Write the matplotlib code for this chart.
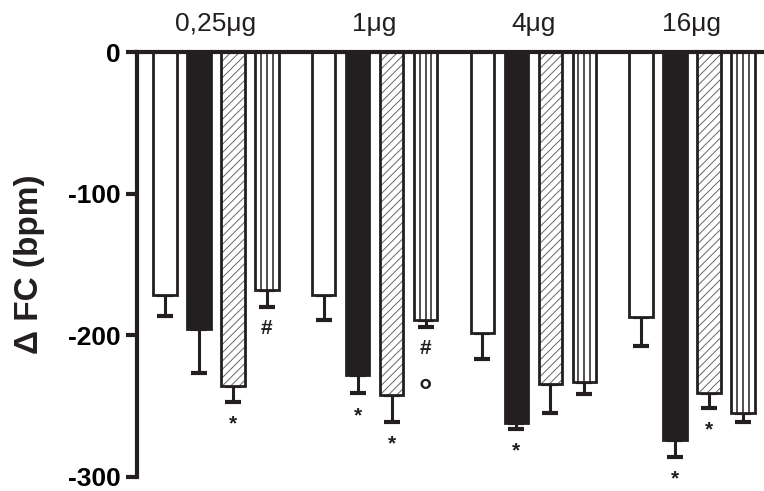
import matplotlib
matplotlib.use("Agg")
import matplotlib.pyplot as plt
import numpy as np

plt.rcParams['font.family'] = ['Liberation Sans', 'DejaVu Sans']
plt.rcParams['hatch.linewidth'] = 0.7
plt.rcParams['axes.unicode_minus'] = False

# data (bpm)
doses = ["0,25μg", "1μg", "4μg", "16μg"]
open_vals = [-171.5, -171.5, -198, -187]
black_vals = [-195.5, -228, -262, -274]
hatch_vals = [-236, -242, -234, -240.5]
vline_vals = [-168, -189, -233, -255]

open_err = [15, 17.5, 18.5, 20.5]
black_err = [31, 13, 4, 12]
hatch_err = [11, 19, 21, 10.5]
vline_err = [12, 5, 8.5, 6.5]

# significance marks under each bar (open, black, hatched, vertical)
marks = [["", "", "*", "#"],
         ["", "*", "*", "#\n°"],
         ["", "*", "", ""],
         ["", "*", "*", ""]]

fig = plt.figure(figsize=(7.64, 4.91), dpi=100)
ax = fig.add_axes([137/764, 14/491, 627/764, 425/491])

gstep = 4.67
w = 0.69
base = np.arange(len(doses)) * gstep
series = [open_vals, black_vals, hatch_vals, vline_vals]
errs = [open_err, black_err, hatch_err, vline_err]
ink = '#231f20'

for i, (vals, er) in enumerate(zip(series, errs)):
    x = base + i
    yerr = [er, np.zeros(len(er))]
    ax.errorbar(x, vals, yerr=yerr, fmt='none', ecolor=ink,
                elinewidth=2.2, capsize=5.5, capthick=3, zorder=1)
    if i == 0:
        ax.bar(x, vals, w, color='white', edgecolor=ink, linewidth=2, zorder=2)
    elif i == 1:
        ax.bar(x, vals, w, color=ink, edgecolor=ink, linewidth=2, zorder=2)
    elif i == 2:
        ax.bar(x, vals, w, color='white', edgecolor='#666666', hatch='////', linewidth=0, zorder=2)
        ax.bar(x, vals, w, fill=False, edgecolor=ink, linewidth=2, zorder=3)
    else:
        ax.bar(x, vals, w, color='white', edgecolor=ink, linewidth=2, zorder=2)
        for f in (0.25, 0.5, 0.75):
            ax.vlines(x - w/2 + f*w, vals, 0, color=ink, linewidth=1.1, zorder=3)
    for j in range(len(doses)):
        if not marks[j][i]:
            continue
        for k, m in enumerate(marks[j][i].split("\n")):
            big = m == "°"
            dy = -37 if big else -9 - 22*k
            ax.annotate(m, (x[j], vals[j] - er[j]), xytext=(0, dy),
                        textcoords='offset points', ha='center', va='top',
                        fontsize=24 if big else 15, fontweight='bold', color=ink)

for j, d in enumerate(doses):
    ax.text(base[j] + 1.5, 1.065, d, transform=ax.get_xaxis_transform(),
            ha='center', va='center', fontsize=19, color=ink)

ax.set_xlim(-0.82, base[-1] + 3 + 0.62)
ax.set_ylim(-300, 0)
ax.set_yticks([0, -100, -200, -300])
ax.set_xticks([])
ax.spines['bottom'].set_visible(False)
ax.spines['right'].set_visible(False)
ax.spines['top'].set_linewidth(3)
ax.spines['left'].set_linewidth(3)
ax.spines['top'].set_color(ink)
ax.spines['left'].set_color(ink)
ax.tick_params(axis='y', length=8, width=3, color=ink, labelsize=19, pad=4)
for t in ax.get_yticklabels():
    t.set_fontweight('bold')
ax.set_ylabel("Δ FC (bpm)", fontsize=24, fontweight='bold', color=ink)
ax.yaxis.set_label_coords(-0.172, 0.5)
ax.yaxis.label.set_va('center')

fig.savefig("out.png", dpi=100)
